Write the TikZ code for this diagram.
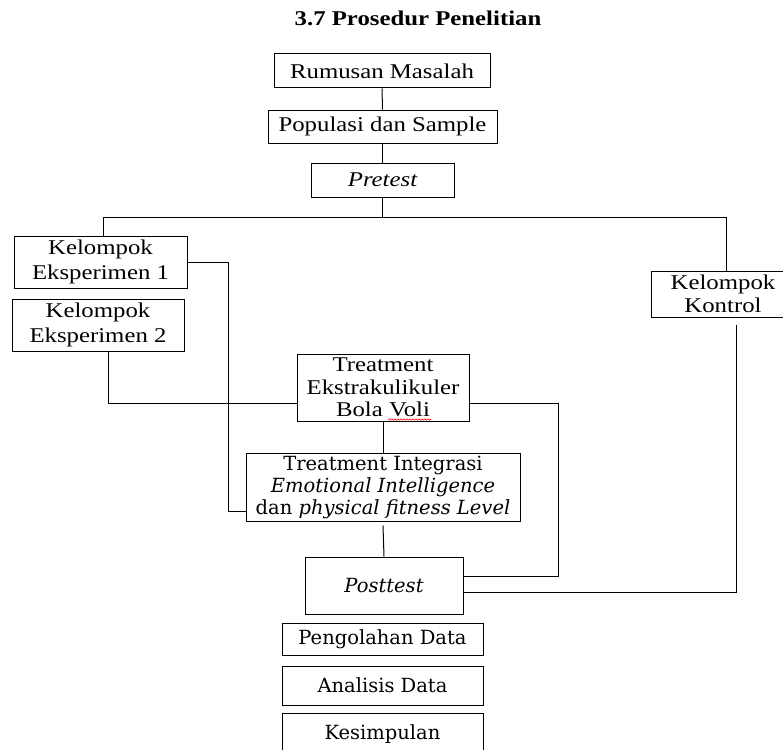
\documentclass[tikz,border=0pt]{standalone}
\usepackage{fontspec}
\setmainfont{Liberation Serif}[FakeStretch=1.18]
\newfontfamily\camfont{DejaVu Serif}
\usetikzlibrary{decorations.pathmorphing}
\begin{document}
\begin{tikzpicture}[x=1pt,y=-1pt,
  box/.style={draw, line width=1pt, inner sep=0pt, align=center},
  tm/.style={font=\fontsize{21}{25}\selectfont},
  tmn/.style={font=\fontsize{21}{22.5}\selectfont},
  cb/.style={font=\camfont\fontsize{19.5}{22}\selectfont},
  link/.style={line width=1pt}]
\useasboundingbox (0,0) rectangle (783,749);
\fill[white] (0,0) rectangle (783,749);

\node[font=\bfseries\fontsize{21}{24}\selectfont] (title) at (418,18) {3.7 Prosedur Penelitian};

\node[box,tm,minimum width=216pt,minimum height=34pt] (rum) at (382,71) {Rumusan Masalah};
\node[box,tm,minimum width=229pt,minimum height=33pt] (pop) at (382.5,126.5) {Populasi dan Sample};
\node[box,tm,minimum width=143pt,minimum height=34pt] (pre) at (382.5,180) {\itshape Pretest};

\node[box,tm,minimum width=173pt,minimum height=52pt] (e1) at (100.5,262) {Kelompok\\Eksperimen 1};
\node[box,tm,minimum width=172pt,minimum height=52pt] (e2) at (98,325) {Kelompok\\Eksperimen 2};
\node[box,tmn,minimum width=144pt,minimum height=46pt] (kon) at (723,294) {Kelompok\\Kontrol};

\node[box,tmn,minimum width=172pt,minimum height=67pt] (tr) at (383,387.5) {Treatment\\Ekstrakulikuler\\Bola Voli};
\node[box,cb,minimum width=274pt,minimum height=68pt] (ti) at (383,487) {Treatment Integrasi\\\textit{Emotional Intelligence}\\dan \textit{physical fitness Level}};
\node[box,cb,minimum width=158pt,minimum height=57pt] (post) at (384,585.5) {\itshape Posttest};

\node[box,cb,minimum width=201pt,minimum height=32pt] (pd) at (382.5,639) {Pengolahan Data};
\node[box,cb,minimum width=201pt,minimum height=39pt] (ad) at (382.5,685.5) {Analisis Data};
\node[box,cb,minimum width=201pt,minimum height=42pt] (ks) at (382.5,734) {Kesimpulan};

% spelling squiggle under "Voli"
\draw[red, line width=0.6pt, decorate, decoration={snake, amplitude=0.7pt, segment length=3pt}] (388,419.5) -- (431,419.5);

% connectors
\draw[link] (rum.south) -- (pop.north);
\draw[link] (pop.south) -- (pre.north);
\coordinate (hl) at (103,217);
\coordinate (hr) at (726,217);
\draw[link] (pre.south) -- (pre.south |- hl);
\draw[link] (e1.north -| hl) -- (hl) -- (hr) -- (kon.north -| hr);

\coordinate (a1) at (228,262);
\coordinate (a2) at (228,511);
\draw[link] (e1.east) -- (a1) -- (a2) -- (ti.west |- a2);

\coordinate (b1) at (108,403);
\draw[link] (e2.south -| b1) -- (b1) -- (tr.west |- b1);

\coordinate (c1) at (558,403);
\coordinate (c2) at (558,576);
\draw[link] (tr.east |- c1) -- (c1) -- (c2) -- (post.east |- c2);

\draw[link] (tr.south) -- (ti.north);
\draw[link] ([yshift=-4pt]ti.south) -- (post.north);

\path ([yshift=-7pt]kon.south) coordinate (kb);
\coordinate (d2) at (736,592);
\draw[link] (kb -| d2) -- (d2) -- (post.east |- d2);
\end{tikzpicture}
\end{document}
